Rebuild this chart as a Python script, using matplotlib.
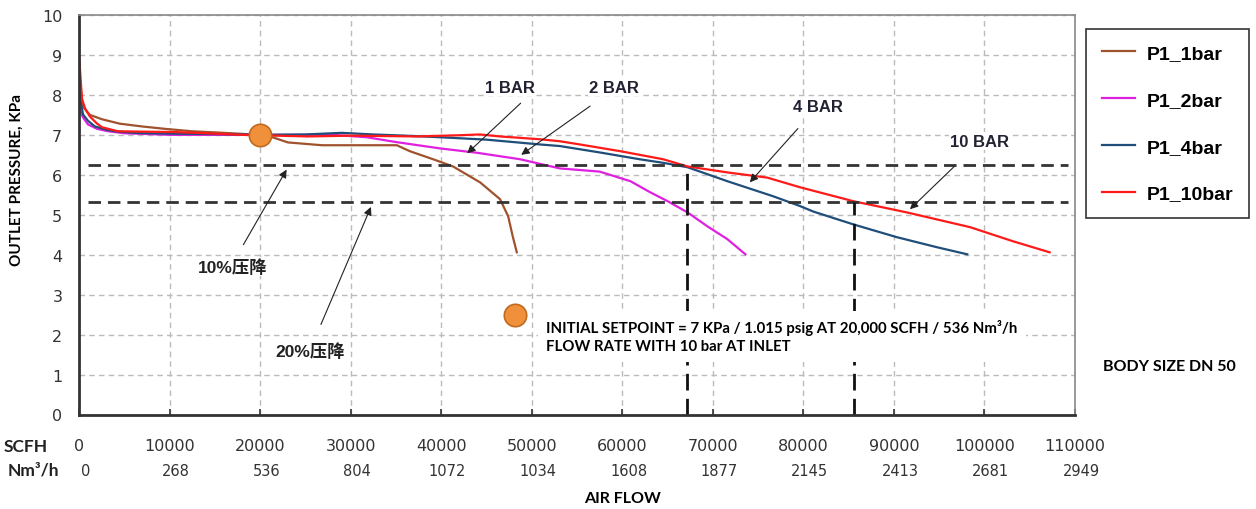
import matplotlib.pyplot as plt
import matplotlib.transforms as mtransforms

# curves
p1_1bar_x = [0, 450, 1200, 2540, 4500, 6960, 9500, 12480, 16000, 20000, 21500, 23080, 26840, 30000,
             35100, 36550, 39100, 41300, 44300, 46500, 47400, 47900, 48350]
p1_1bar_y = [8.5, 7.7, 7.5, 7.39, 7.28, 7.21, 7.15, 7.09, 7.05, 7.0, 6.93, 6.81, 6.74, 6.74,
             6.74, 6.59, 6.39, 6.21, 5.81, 5.39, 4.96, 4.46, 4.06]

p1_2bar_x = [0, 400, 1000, 2000, 3200, 5000, 10000, 20000, 28000, 31800, 35000, 39900, 44000,
             48700, 53100, 57500, 60900, 63100, 65000, 67200, 69400, 71600, 73600]
p1_2bar_y = [7.7, 7.45, 7.26, 7.15, 7.09, 7.04, 7.0, 7.0, 7.0, 6.94, 6.82, 6.66, 6.55,
             6.39, 6.16, 6.08, 5.84, 5.56, 5.34, 5.06, 4.71, 4.39, 4.01]

p1_4bar_x = [0, 200, 450, 1000, 1760, 3000, 3960, 6000, 10000, 15000, 20000, 25000, 29000, 32500,
             36000, 39900, 45000, 50900, 53100, 57500, 61900, 64500, 67200, 71600, 76700, 79600,
             81100, 85500, 90300, 94700, 98100]
p1_4bar_y = [8.2, 7.8, 7.51, 7.35, 7.21, 7.13, 7.09, 7.05, 7.03, 7.02, 7.0, 7.01, 7.05, 7.01,
             6.98, 6.94, 6.88, 6.76, 6.72, 6.56, 6.39, 6.3, 6.19, 5.84, 5.46, 5.22,
             5.08, 4.76, 4.44, 4.19, 4.01]

p1_10bar_x = [0, 150, 330, 700, 1200, 2000, 2540, 4300, 7000, 10600, 14000, 18000, 25300, 30000,
              37300, 42000, 44300, 46500, 50900, 53100, 55300, 59800, 64500, 67200, 71600, 76000,
              79600, 85500, 91400, 98400, 103100, 107200]
p1_10bar_y = [9.0, 8.5, 7.89, 7.65, 7.46, 7.28, 7.19, 7.09, 7.08, 7.07, 7.04, 7.0, 6.96, 6.98,
              6.96, 6.99, 7.01, 6.96, 6.89, 6.84, 6.76, 6.59, 6.39, 6.21, 6.06, 5.93,
              5.69, 5.34, 5.06, 4.69, 4.34, 4.06]

drop10 = 6.25
drop20 = 5.33
cut_4bar = 67200
cut_10bar = 85600
dots_x = [20000, 48200]
dots_y = [7.0, 2.5]

scfh_ticks = [0, 10000, 20000, 30000, 40000, 50000, 60000, 70000, 80000, 90000, 100000, 110000]
nm3h_labels = ['0', '268', '536', '804', '1072', '1034', '1608', '1877', '2145', '2413', '2681', '2949']

bold_font = 'Lato'
arial = 'Liberation Sans'

fig = plt.figure(figsize=(12.56, 5.10), dpi=100)
ax = fig.add_axes([79 / 1256, 1 - 415.5 / 510, 996 / 1256, 399.5 / 510])

ax.plot(p1_1bar_x, p1_1bar_y, color='#A0522D', lw=1.6, label='P1_1bar')
ax.plot(p1_2bar_x, p1_2bar_y, color='#E020E0', lw=1.6, label='P1_2bar')
ax.plot(p1_4bar_x, p1_4bar_y, color='#1F4E7A', lw=1.6, label='P1_4bar')
ax.plot(p1_10bar_x, p1_10bar_y, color='#FF1A1A', lw=1.6, label='P1_10bar')

# pressure drop lines
ax.plot([1000, 109200], [drop10, drop10], color='#333333', lw=2, dashes=(4.5, 2.5))
ax.plot([1000, 109200], [drop20, drop20], color='#333333', lw=2, dashes=(4.5, 2.5))
ax.plot([cut_4bar, cut_4bar], [0, drop10], color='#111111', lw=2, dashes=(6, 3))
ax.plot([cut_10bar, cut_10bar], [0, drop20], color='#111111', lw=2, dashes=(6, 3))

ax.scatter(dots_x, dots_y, s=260, color='#F0903A', edgecolors='#C06A20', linewidths=1.2, zorder=5)

ax.set_xlim(0, 110000)
ax.set_ylim(0, 10)
ax.set_xticks(scfh_ticks)
ax.set_xticklabels([str(t) for t in scfh_ticks])
ax.set_yticks(range(11))
ax.tick_params(axis='x', direction='in', length=4, width=1.2, color='#333333', pad=17,
               labelsize=11.5, labelcolor='#333333')
ax.tick_params(axis='y', length=0, pad=12, labelsize=11.5, labelcolor='#333333')
ax.grid(True, color='#BBBBBB', lw=1, dashes=(4, 3))
ax.set_axisbelow(True)
for s in ['top', 'right']:
    ax.spines[s].set_color('#888888')
    ax.spines[s].set_linewidth(1.2)
for s in ['left', 'bottom']:
    ax.spines[s].set_color('#333333')
    ax.spines[s].set_linewidth(2)

# second row of x labels
trans = mtransforms.blended_transform_factory(ax.transData, fig.transFigure)
for t, lab in zip(scfh_ticks, nm3h_labels):
    ax.text(t + 700, 1 - 471 / 510, lab, transform=trans, ha='center', va='center',
            fontsize=10.5, color='#333333')

# annotations
box = dict(facecolor='white', edgecolor='none', pad=1)
arrow = dict(arrowstyle='-|>', color='#222222', lw=0.8, mutation_scale=12)
notes = [
    ('1 BAR', (47600, 8.19), (49000, 7.84), (42650, 6.49)),
    ('2 BAR', (59100, 8.19), (56700, 7.76), (48590, 6.46)),
    ('4 BAR', (81600, 7.71), (79600, 7.21), (73880, 5.76)),
    ('10 BAR', (99500, 6.84), (96900, 6.26), (91550, 5.09)),
]
for txt, pos, start, end in notes:
    ax.text(pos[0], pos[1], txt, ha='center', va='center', fontsize=12, fontweight='bold',
            family=arial, color='#222233', bbox=box)
    ax.annotate('', xy=end, xytext=start, arrowprops=arrow)

cjk = [arial, 'Noto Sans CJK SC']
ax.text(17000, 3.71, '10%压降', ha='center', va='center', fontsize=12.5, fontweight='bold',
        family=cjk, color='#222222', bbox=box)
ax.annotate('', xy=(23080, 6.19), xytext=(18000, 4.19), arrowprops=arrow)
ax.text(25500, 1.61, '20%压降', ha='center', va='center', fontsize=12.5, fontweight='bold',
        family=cjk, color='#222222', bbox=box)
ax.annotate('', xy=(32360, 5.26), xytext=(26600, 2.19), arrowprops=arrow)

ax.text(51600, 1.96, 'INITIAL SETPOINT = 7 KPa / 1.015 psig AT 20,000 SCFH / 536 Nm³/h\n'
        'FLOW RATE WITH 10 bar AT INLET', ha='left', va='center', fontsize=10.8,
        fontweight='bold', family=bold_font, linespacing=1.35,
        bbox=dict(facecolor='white', edgecolor='none', pad=6), zorder=6)

fig.text(26 / 1256, 1 - 447 / 510, 'SCFH', ha='center', va='center', fontsize=12.5,
         fontweight='bold', family=bold_font, color='#222222')
fig.text(33 / 1256, 1 - 471 / 510, 'Nm³/h', ha='center', va='center', fontsize=12.5,
         fontweight='bold', family=bold_font, color='#222222')
fig.text(623 / 1256, 1 - 499 / 510, 'AIR FLOW', ha='center', va='center', fontsize=11.5,
         fontweight='bold', family=bold_font)
fig.text(1169 / 1256, 1 - 367 / 510, 'BODY SIZE DN 50', ha='center', va='center', fontsize=11.5,
         fontweight='bold', family=bold_font)
fig.text(17 / 1256, 1 - 180 / 510, 'OUTLET PRESSURE, KPa', rotation=90, ha='center',
         va='center', fontsize=11, fontweight='bold', family=bold_font)

leg = ax.legend(loc='upper left', bbox_to_anchor=(1086 / 1256, 1 - 30 / 510),
                bbox_transform=fig.transFigure, borderaxespad=0, fancybox=False,
                edgecolor='#333333', framealpha=1, labelspacing=1.5, handlelength=1.7,
                borderpad=0.8, handletextpad=0.65,
                prop=dict(family=arial, weight='bold', size=14))
leg.get_frame().set_linewidth(1.2)

fig.savefig('out.png', dpi=100)
